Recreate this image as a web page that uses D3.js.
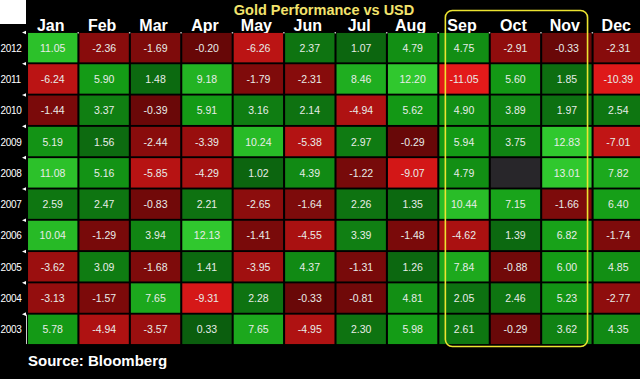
<!DOCTYPE html>
<html><head><meta charset="utf-8">
<script src="https://cdn.jsdelivr.net/npm/d3@7"></script>
<style>html,body{margin:0;padding:0;background:#000;}svg{display:block;}</style>
</head><body>
<svg id="c" width="640" height="379"></svg>
<script>
const months = ["Jan","Feb","Mar","Apr","May","Jun","Jul","Aug","Sep","Oct","Nov","Dec"];
const years = ["2012","2011","2010","2009","2008","2007","2006","2005","2004","2003"];
const v2012 = [11.05,-2.36,-1.69,-0.20,-6.26,2.37,1.07,4.79,4.75,-2.91,-0.33,-2.31];
const v2011 = [-6.24,5.90,1.48,9.18,-1.79,-2.31,8.46,12.20,-11.05,5.60,1.85,-10.39];
const v2010 = [-1.44,3.37,-0.39,5.91,3.16,2.14,-4.94,5.62,4.90,3.89,1.97,2.54];
const v2009 = [5.19,1.56,-2.44,-3.39,10.24,-5.38,2.97,-0.29,5.94,3.75,12.83,-7.01];
const v2008 = [11.08,5.16,-5.85,-4.29,1.02,4.39,-1.22,-9.07,4.79,null,13.01,7.82];
const v2007 = [2.59,2.47,-0.83,2.21,-2.65,-1.64,2.26,1.35,10.44,7.15,-1.66,6.40];
const v2006 = [10.04,-1.29,3.94,12.13,-1.41,-4.55,3.39,-1.48,-4.62,1.39,6.82,-1.74];
const v2005 = [-3.62,3.09,-1.68,1.41,-3.95,4.37,-1.31,1.26,7.84,-0.88,6.00,4.85];
const v2004 = [-3.13,-1.57,7.65,-9.31,2.28,-0.33,-0.81,4.81,2.05,2.46,5.23,-2.77];
const v2003 = [5.78,-4.94,-3.57,0.33,7.65,-4.95,2.30,5.98,2.61,-0.29,3.62,4.35];
const rows = [v2012,v2011,v2010,v2009,v2008,v2007,v2006,v2005,v2004,v2003];
const highlight = ["Sep","Oct","Nov"];

const cells = [];
rows.forEach((r,i)=>r.forEach((v,j)=>cells.push({year:years[i],month:months[j],value:v})));

const svg = d3.select("#c");
svg.append("rect").attr("width",640).attr("height",379).attr("fill","#000");

const x = d3.scaleBand().domain(months).range([27,644]).paddingInner(0.04).paddingOuter(0.02);
const y = d3.scaleBand().domain(years).range([32,345]).paddingInner(0.06).paddingOuter(0.03);
const green = d3.scaleLinear().domain([0,6,12]).range(["#0a5a0e","#149c16","#30c82e"]).clamp(true);
const red = d3.scaleLinear().domain([-11,-5,0]).range(["#e31a1a","#b01212","#640707"]).clamp(true);
const color = v => v==null ? "#28262a" : (v>=0 ? green(v) : red(v));

// white box top-left
svg.append("rect").attr("x",0).attr("y",0).attr("width",26).attr("height",24).attr("fill","#fff");

// title
svg.append("text").attr("x",324).attr("y",15).attr("text-anchor","middle")
  .attr("font-family","Liberation Sans, Arial, sans-serif").attr("font-weight","bold")
  .attr("font-size",14.5).attr("fill","#f2e36c").text("Gold Performance vs USD");

// month headers
svg.append("g").selectAll("text").data(months).join("text")
  .attr("x",d=>x(d)+x.bandwidth()/2-2).attr("y",31).attr("text-anchor","middle")
  .attr("font-family","Liberation Sans, Arial, sans-serif").attr("font-weight","bold")
  .attr("font-size",16).attr("fill","#fff").text(d=>d);

// header tick dots
svg.append("g").selectAll("rect").data(months.slice(1)).join("rect")
  .attr("x",d=>x(d)-2).attr("y",32).attr("width",1.5).attr("height",1.5).attr("fill","#bbb");

// cells
svg.append("g").selectAll("rect").data(cells).join("rect")
  .attr("x",d=>x(d.month)).attr("y",d=>y(d.year))
  .attr("width",x.bandwidth()).attr("height",y.bandwidth())
  .attr("fill",d=>color(d.value));

svg.append("g").selectAll("text").data(cells.filter(d=>d.value!=null)).join("text")
  .attr("x",d=>x(d.month)+x.bandwidth()/2).attr("y",d=>y(d.year)+y.bandwidth()/2+4)
  .attr("text-anchor","middle").attr("font-family","Liberation Sans, Arial, sans-serif")
  .attr("font-size",10.5).attr("fill","#e8ece8").text(d=>d.value.toFixed(2));

// year labels
svg.append("g").selectAll("text").data(years).join("text")
  .attr("x",0.5).attr("y",d=>y(d)+y.bandwidth()/2+4).attr("text-anchor","start")
  .attr("font-family","Liberation Sans, Arial, sans-serif").attr("letter-spacing",-0.3)
  .attr("font-size",10).attr("fill","#fff").text(d=>d);

// left tick triangles
svg.append("g").selectAll("path").data(years).join("path")
  .attr("d",d=>{const yy=y(d)-0.5;return `M26,${yy-1.8}L22,${yy}L26,${yy+1.8}Z`;})
  .attr("fill","#fff");
svg.append("line").attr("x1",26.5).attr("x2",26.5)
  .attr("y1",y("2003")).attr("y2",y("2003")+y.bandwidth()).attr("stroke","#ccc").attr("stroke-width",1);

// highlight box
const hx0 = x(highlight[0])+6, hx1 = x(highlight[highlight.length-1])+x.bandwidth()-4;
svg.append("rect").attr("x",hx0).attr("y",10.5).attr("width",hx1-hx0).attr("height",336)
  .attr("rx",7).attr("fill","none").attr("stroke","#ece430").attr("stroke-width",1.6);

// source
svg.append("text").attr("x",28).attr("y",366)
  .attr("font-family","Liberation Sans, Arial, sans-serif").attr("font-weight","bold")
  .attr("font-size",15).attr("fill","#fff").text("Source: Bloomberg");
</script>
</body></html>
